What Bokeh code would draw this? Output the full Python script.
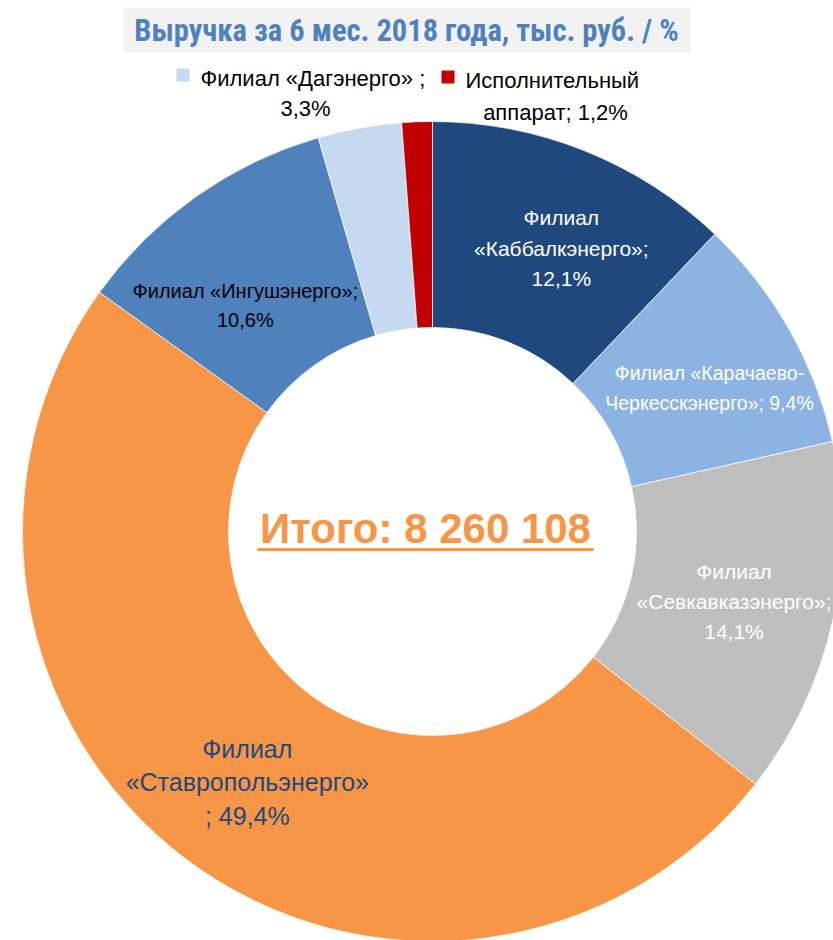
import math
from bokeh.plotting import figure
from bokeh.models import Range1d
from bokeh.core.properties import value
from bokeh.embed import file_html
from bokeh.resources import INLINE

# ---- data ----
names = ["Филиал «Каббалкэнерго»", "Филиал «Карачаево-Черкесскэнерго»",
         "Филиал «Севкавказэнерго»", "Филиал «Ставропольэнерго»",
         "Филиал «Ингушэнерго»", "Филиал «Дагэнерго»", "Исполнительный аппарат"]
shares = [12.1, 9.4, 14.1, 49.4, 10.6, 3.3, 1.2]
colors = ["#1F497D", "#8DB3E2", "#BFBFBF", "#F79646", "#4F81BD", "#C6D9F1", "#C00000"]
inside_labels = [
    ["Филиал", "«Каббалкэнерго»;", "12,1%"],
    ["Филиал «Карачаево-", "Черкесскэнерго»; 9,4%"],
    ["Филиал", "«Севкавказэнерго»;", "14,1%"],
    ["Филиал", "«Ставропольэнерго»", "; 49,4%"],
    ["Филиал «Ингушэнерго»;", "10,6%"],
]
label_colors = ["white", "white", "white", "#1F497D", "black"]
title = "Выручка за 6 мес. 2018 года, тыс. руб. / %"
total_text = "Итого: 8 260 108"

SANS = value("'Liberation Sans', Arial, sans-serif")
NARROW = value("'Roboto Condensed', 'Liberation Sans Narrow', sans-serif")

W, H = 833, 940
p = figure(width=W, height=H, output_backend="svg", toolbar_location=None,
           x_range=Range1d(0, W), y_range=Range1d(-H, 0), min_border=0)
p.axis.visible = False
p.grid.visible = False
p.outline_line_color = None
p.background_fill_color = "white"
p.border_fill_color = "white"

cx, cy = 432, -531
R_out, R_in = 410, 204

tot = sum(shares)
starts, ends = [], []
c = 0.0
for s in shares:
    starts.append(math.pi / 2 - 2 * math.pi * c / tot)
    c += s
    ends.append(math.pi / 2 - 2 * math.pi * c / tot)

p.annular_wedge(x=[cx] * len(shares), y=[cy] * len(shares), inner_radius=R_in,
                outer_radius=R_out, start_angle=starts, end_angle=ends,
                direction="clock", fill_color=colors, line_color="white", line_width=0.7)

# inside labels at mid-angle, mid-radius (with small manual nudges)
offsets = [(15, -2), (10, -8), (2, -3), (-1, -5), (-10, -25)]
sizes = ["21px", "19.5px", "21px", "25px", "20px"]
leads = [30.5, 30, 30, 33.5, 29]
for i, lines in enumerate(inside_labels):
    mid = (starts[i] + ends[i]) / 2
    rm = (R_out + R_in) / 2
    lx = cx + rm * math.cos(mid) + offsets[i][0]
    ly = cy + rm * math.sin(mid) + offsets[i][1]
    n = len(lines)
    ys = [ly + (n - 1) / 2 * leads[i] - k * leads[i] for k in range(n)]
    p.text(x=[lx] * n, y=ys, text=lines, text_align="center", text_baseline="middle",
           text_font=SANS, text_font_size=sizes[i], text_color=label_colors[i])

# outside labels with legend keys (Дагэнерго, Исполнительный аппарат)
p.quad(left=[176, 441], right=[189, 454], top=[-68, -70], bottom=[-81, -83],
       fill_color=[colors[5], colors[6]], line_color=None)
p.text(x=[200], y=[-78], text=["Филиал «Дагэнерго» ;"], text_align="left",
       text_baseline="middle", text_font=SANS, text_font_size="22px", text_color="black")
p.text(x=[305], y=[-108], text=["3,3%"], text_align="center",
       text_baseline="middle", text_font=SANS, text_font_size="22px", text_color="black")
p.text(x=[465], y=[-80], text=["Исполнительный"], text_align="left",
       text_baseline="middle", text_font=SANS, text_font_size="22px", text_color="black")
p.text(x=[555], y=[-112], text=["аппарат; 1,2%"], text_align="center",
       text_baseline="middle", text_font=SANS, text_font_size="22px", text_color="black")

# title with grey background
p.quad(left=[123], right=[690], top=[-7], bottom=[-52], fill_color="#F2F2F2", line_color=None)
p.text(x=[406], y=[-30], text=[title], text_align="center", text_baseline="middle",
       text_font=NARROW, text_font_size="30.5px", text_font_style="bold", text_color="#4F81BD")

# total in the centre, underlined
p.text(x=[425], y=[-528], text=[total_text], text_align="center", text_baseline="middle",
       text_font=SANS, text_font_size="42px", text_font_style="bold", text_color="#F79646")
p.segment(x0=[257], x1=[593], y0=[-549], y1=[-549], line_color="#F79646", line_width=3)

open("out.html", "w").write(file_html(p, INLINE))
